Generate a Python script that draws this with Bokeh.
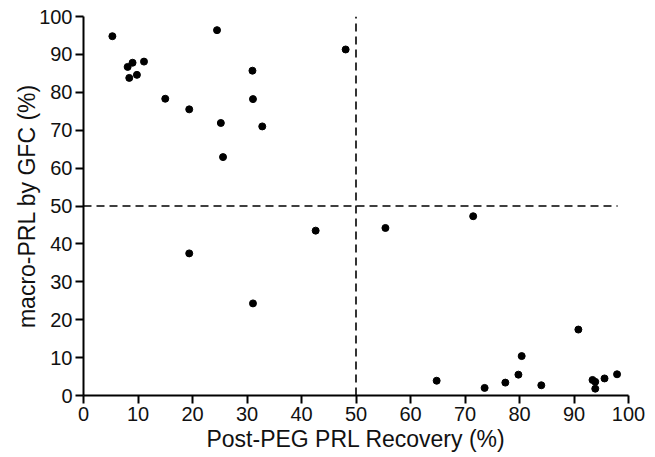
from bokeh.plotting import figure
from bokeh.models import Range1d, FixedTicker
from bokeh.embed import file_html
from bokeh.resources import INLINE

recovery = [5.3, 8.1, 9.0, 8.4, 9.8, 11.1, 15.0, 19.4, 24.5, 25.2, 25.6, 31.0, 31.1, 32.8,
            42.6, 48.1, 71.5, 55.4, 19.4, 31.1,
            64.8, 73.6, 77.4, 79.8, 80.4, 84.0, 90.8, 93.4, 93.9, 93.9, 95.6, 97.9]
macro = [94.8, 86.7, 87.8, 83.8, 84.6, 88.1, 78.3, 75.5, 96.4, 71.9, 62.9, 85.7, 78.2, 71.0,
         43.5, 91.3, 47.3, 44.2, 37.5, 24.3,
         3.9, 2.0, 3.4, 5.5, 10.4, 2.7, 17.4, 4.1, 3.6, 1.8, 4.5, 5.6]
x_ticks = [0, 10, 20, 30, 40, 50, 60, 70, 80, 90, 100]
y_ticks = [0, 10, 20, 30, 40, 50, 60, 70, 80, 90, 100]
cutoff_x = 50
cutoff_y = 50
hline_x = [0, 98]

p = figure(width=652, height=454, output_backend="svg", toolbar_location=None,
           x_range=Range1d(0, 100), y_range=Range1d(0, 100),
           min_border_left=83, min_border_right=24, min_border_top=16, min_border_bottom=57)
p.outline_line_color = None
p.grid.grid_line_color = None
p.background_fill_color = "white"

# cutoff lines
p.line(x=[cutoff_x, cutoff_x], y=[0, 100], line_color="black", line_width=1.6, line_dash="8 5")
p.line(x=hline_x, y=[cutoff_y, cutoff_y], line_color="black", line_width=1.6, line_dash="8 5")

p.scatter(recovery, macro, size=7, color="black")

for ax in (p.xaxis, p.yaxis):
    ax.axis_line_width = 2
    ax.axis_line_color = "black"
    ax.major_tick_line_width = 2
    ax.major_tick_line_color = "black"
    ax.major_tick_out = 8
    ax.major_tick_in = 0
    ax.minor_tick_line_color = None
    ax.major_label_text_font = "Liberation Sans"
    ax.major_label_text_font_size = "20px"
    ax.major_label_text_color = "#111111"
    ax.axis_label_text_font = "Liberation Sans"
    ax.axis_label_text_font_size = "23px"
    ax.axis_label_text_font_style = "normal"
    ax.axis_label_text_color = "#111111"

p.xaxis.ticker = FixedTicker(ticks=x_ticks)
p.yaxis.ticker = FixedTicker(ticks=y_ticks)
p.xaxis.major_label_standoff = 3
p.yaxis.major_label_standoff = 3
p.xaxis.axis_label = "Post-PEG PRL Recovery (%)"
p.yaxis.axis_label = "macro-PRL by GFC (%)"
p.xaxis.axis_label_standoff = 2
p.yaxis.axis_label_standoff = -4

open("out.html", "w").write(file_html(p, INLINE))
